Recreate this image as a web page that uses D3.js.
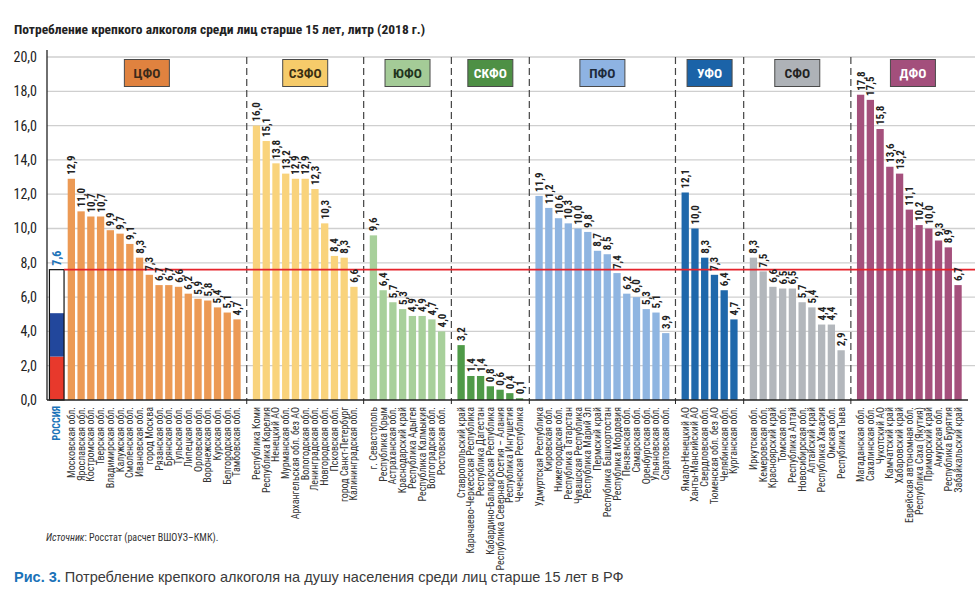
<!DOCTYPE html>
<html><head><meta charset="utf-8">
<script src="https://cdn.jsdelivr.net/npm/d3@7"></script>
<style>
html,body{margin:0;padding:0;background:#fff;}
svg{display:block;}
</style></head>
<body><svg id="c" width="978" height="595"></svg>
<script>
// ---- data ----
const districts = ["ЦФО","СЗФО","ЮФО","СКФО","ПФО","УФО","СФО","ДФО"];
const districtBarColors = ["#ec9a55","#f9d37c","#a8d09b","#4f9a48","#8fb5e1","#1f68ab","#b3b7bc","#a5507c"];
const districtBoxColors = ["#e0823f","#f6cb6a","#a4cb97","#4e9045","#8eb3e2","#1b63a8","#aeb2b7","#a34f7c"];
const districtTextColors = ["#3b2a1a","#3b2f12","#22331d","#ffffff","#1d2a3a","#ffffff","#222222","#ffffff"];

const cfoRegions = ["Московская обл.","Ярославская обл.","Костромская обл.","Тверская обл.","Владимирская обл.","Калужская обл.","Смоленская обл.","Ивановская обл.","город Москва","Рязанская обл.","Брянская обл.","Тульская обл.","Липецкая обл.","Орловская обл.","Воронежская обл.","Курская обл.","Белгородская обл.","Тамбовская обл."];
const cfoValues = [12.9,11.0,10.7,10.7,9.9,9.7,9.1,8.3,7.3,6.7,6.7,6.6,6.2,5.9,5.8,5.4,5.1,4.7];
const szfoRegions = ["Республика Коми","Республика Карелия","Ненецкий АО","Мурманская обл.","Архангельская обл. без АО","Вологодская обл.","Ленинградская обл.","Новгородская обл.","Псковская обл.","город Санкт-Петербург","Калининградская обл."];
const szfoValues = [16.0,15.1,13.8,13.2,12.9,12.9,12.3,10.3,8.4,8.3,6.6];
const yufoRegions = ["г. Севастополь","Республика Крым","Астраханская обл.","Краснодарский край","Республика Адыгея","Республика Калмыкия","Волгоградская обл.","Ростовская обл."];
const yufoValues = [9.6,6.4,5.7,5.3,4.9,4.9,4.7,4.0];
const skfoRegions = ["Ставропольский край","Карачаево-Черкесская Республика","Республика Дагестан","Кабардино-Балкарская Республика","Республика Северная Осетия – Алания","Республика Ингушетия","Чеченская Республика"];
const skfoValues = [3.2,1.4,1.4,0.8,0.6,0.4,0.1];
const pfoRegions = ["Удмуртская Республика","Кировская обл.","Нижегородская обл.","Республика Татарстан","Чувашская Республика","Республика Марий Эл","Пермский край","Республика Башкортостан","Республика Мордовия","Пензенская обл.","Самарская обл.","Оренбургская обл.","Ульяновская обл.","Саратовская обл."];
const pfoValues = [11.9,11.2,10.6,10.3,10.0,9.8,8.7,8.5,7.4,6.2,6.0,5.3,5.1,3.9];
const ufoRegions = ["Ямало-Ненецкий АО","Ханты-Мансийский АО","Свердловская обл.","Тюменская обл. без АО","Челябинская обл.","Курганская обл."];
const ufoValues = [12.1,10.0,8.3,7.3,6.4,4.7];
const sfoRegions = ["Иркутская обл.","Кемеровская обл.","Красноярский край","Томская обл.","Республика Алтай","Новосибирская обл.","Алтайский край","Республика Хакасия","Омская обл.","Республика Тыва"];
const sfoValues = [8.3,7.5,6.6,6.5,6.5,5.7,5.4,4.4,4.4,2.9];
const dfoRegions = ["Магаданская обл.","Сахалинская обл.","Чукотский АО","Камчатский край","Хабаровский край","Еврейская автономная обл.","Республика Саха (Якутия)","Приморский край","Амурская обл.","Республика Бурятия","Забайкальский край"];
const dfoValues = [17.8,17.5,15.8,13.6,13.2,11.1,10.2,10.0,9.3,8.9,6.7];

const russiaLabel = "РОССИЯ";
const russiaValue = 7.6;
const yTicks = [0,2,4,6,8,10,12,14,16,18,20];

const titleText = "Потребление крепкого алкоголя среди лиц старше 15 лет, литр (2018 г.)";
const sourceLead = "Источник";
const sourceText = ": Росстат (расчет ВШОУЗ–КМК).";
const captionLead = "Рис. 3.";
const captionText = " Потребление крепкого алкоголя на душу населения среди лиц старше 15 лет в РФ";

// ---- build ----
const groupRegions = [cfoRegions,szfoRegions,yufoRegions,skfoRegions,pfoRegions,ufoRegions,sfoRegions,dfoRegions];
const groupValues = [cfoValues,szfoValues,yufoValues,skfoValues,pfoValues,ufoValues,sfoValues,dfoValues];
const rows = []; const slots = [];
groupRegions.forEach((regs,gi)=>{
  if(gi>0) slots.push("gap"+gi);
  regs.forEach((r,i)=>{ const key=gi+"|"+r; slots.push(key); rows.push({key,name:r,value:groupValues[gi][i],g:gi}); });
});

const NARROW = '"Liberation Sans Narrow","Arial Narrow","Roboto Condensed","DejaVu Sans Condensed",sans-serif';
const svg = d3.select("#c");
const plotL = 47, plotR = 975;
const x = d3.scaleBand().domain(slots).range([67.7,961.7]).paddingInner(0.25).paddingOuter(0);
const y = d3.scaleLinear().domain([0,20]).range([400,57]);
const bw = x.bandwidth(), step = x.step();

// title
svg.append("text").attr("x",14).attr("y",34).attr("font-family",NARROW).attr("font-weight","bold")
  .attr("font-size",13.5).attr("fill","#222").text(titleText);

// gridlines
svg.append("g").selectAll("line").data(yTicks.filter(d=>d>0)).join("line")
  .attr("x1",plotL).attr("x2",plotR).attr("y1",d=>y(d)).attr("y2",d=>y(d))
  .attr("stroke","#cfcfcf").attr("stroke-width",1.3);

// y axis
const yAxis = d3.axisLeft(y).tickValues(yTicks).tickSize(0).tickPadding(10)
  .tickFormat(d=>d3.format(".1f")(d).replace(".",","));
const ya = svg.append("g").attr("transform",`translate(${plotL},0)`).call(yAxis);
ya.select(".domain").remove();
ya.selectAll("text").attr("font-family",NARROW).attr("font-size",14).attr("fill","#222");
svg.append("line").attr("x1",plotL).attr("x2",plotL).attr("y1",50).attr("y2",y(0)).attr("stroke","#222").attr("stroke-width",1.3);

// separators
const bounds = [plotL];
for(let gi=1; gi<districts.length; gi++) bounds.push(x("gap"+gi)+bw/2);
bounds.push(plotR);
svg.append("g").selectAll("line").data(bounds.slice(1,-1)).join("line")
  .attr("x1",d=>d).attr("x2",d=>d).attr("y1",y(20)).attr("y2",y(0))
  .attr("stroke","#444").attr("stroke-width",1.2).attr("stroke-dasharray","7,4");
svg.append("g").selectAll("line").data(bounds.slice(1,-1)).join("line")
  .attr("x1",d=>d).attr("x2",d=>d).attr("y1",y(0)).attr("y2",y(0)+4)
  .attr("stroke","#222").attr("stroke-width",1);

// district boxes
const boxes = svg.append("g").selectAll("g").data(districts).join("g")
  .attr("transform",(d,i)=>`translate(${(bounds[i]+bounds[i+1])/2},0)`);
boxes.append("rect").attr("x",-22.5).attr("y",59.5).attr("width",45).attr("height",27)
  .attr("fill",(d,i)=>districtBoxColors[i]).attr("stroke","#4a4a4a").attr("stroke-width",1);
boxes.append("text").attr("y",78).attr("text-anchor","middle").attr("font-family",NARROW)
  .attr("font-weight","bold").attr("font-size",13.5).attr("fill",(d,i)=>districtTextColors[i]).text(d=>d);

// bars
svg.append("g").selectAll("rect").data(rows).join("rect")
  .attr("x",d=>x(d.key)).attr("width",bw).attr("y",d=>y(d.value)).attr("height",d=>y(0)-y(d.value))
  .attr("fill",d=>districtBarColors[d.g]);

// Russia bar
const rx = x(slots[0]) - 1.5*step + bw/2 - bw;
const thirds = [[0,1/3,"#e8392c"],[1/3,2/3,"#22479c"],[2/3,1,"#ffffff"]];
svg.append("g").selectAll("rect").data(thirds).join("rect")
  .attr("x",rx).attr("width",2*bw).attr("y",d=>y(russiaValue*d[1])).attr("height",d=>y(russiaValue*d[0])-y(russiaValue*d[1]))
  .attr("fill",d=>d[2]);
svg.append("rect").attr("x",rx).attr("width",2*bw).attr("y",y(russiaValue)).attr("height",y(0)-y(russiaValue))
  .attr("fill","none").attr("stroke","#111").attr("stroke-width",1.2);

// average line
svg.append("line").attr("x1",rx+2*bw).attr("x2",plotR).attr("y1",y(russiaValue)).attr("y2",y(russiaValue))
  .attr("stroke","#e5232b").attr("stroke-width",1.8);

// baseline
svg.append("line").attr("x1",plotL).attr("x2",968).attr("y1",y(0)).attr("y2",y(0)).attr("stroke","#222").attr("stroke-width",1.3);

// value labels
const fmt = v=>d3.format(".1f")(v).replace(".",",");
svg.append("g").selectAll("text").data(rows).join("text")
  .attr("transform",d=>`translate(${x(d.key)+bw/2},${y(d.value)-4}) rotate(-90)`)
  .attr("dy","0.36em").attr("font-family",NARROW).attr("font-weight","bold").attr("font-size",11)
  .attr("fill","#222").text(d=>fmt(d.value));
svg.append("text").attr("transform",`translate(${rx+bw},${y(russiaValue)-4}) rotate(-90)`)
  .attr("dy","0.36em").attr("font-family",NARROW).attr("font-weight","bold").attr("font-size",12)
  .attr("fill","#1a72b8").text(fmt(russiaValue));

// category labels
svg.append("g").selectAll("text").data(rows).join("text")
  .attr("transform",d=>`translate(${x(d.key)+bw/2},407) rotate(-90)`)
  .attr("dy","0.35em").attr("text-anchor","end").attr("font-family",NARROW).attr("font-size",10)
  .attr("fill","#333").text(d=>d.name);
svg.append("text").attr("transform",`translate(${rx+bw},406) rotate(-90)`)
  .attr("dy","0.35em").attr("text-anchor","end").attr("font-family",NARROW).attr("font-weight","bold").attr("font-size",10)
  .attr("fill","#1a72b8").text(russiaLabel);

// source
const src = svg.append("text").attr("x",46).attr("y",541).attr("font-family",NARROW).attr("font-size",10).attr("fill","#333");
src.append("tspan").attr("font-style","italic").text(sourceLead);
src.append("tspan").text(sourceText);

// caption
const cap = svg.append("text").attr("x",14).attr("y",582).attr("font-family",'"Liberation Sans",Arial,sans-serif').attr("font-size",14.5).attr("fill","#3a3a3a");
cap.append("tspan").attr("font-weight","bold").attr("fill","#1a72b8").text(captionLead);
cap.append("tspan").text(captionText);
</script>
</body></html>
